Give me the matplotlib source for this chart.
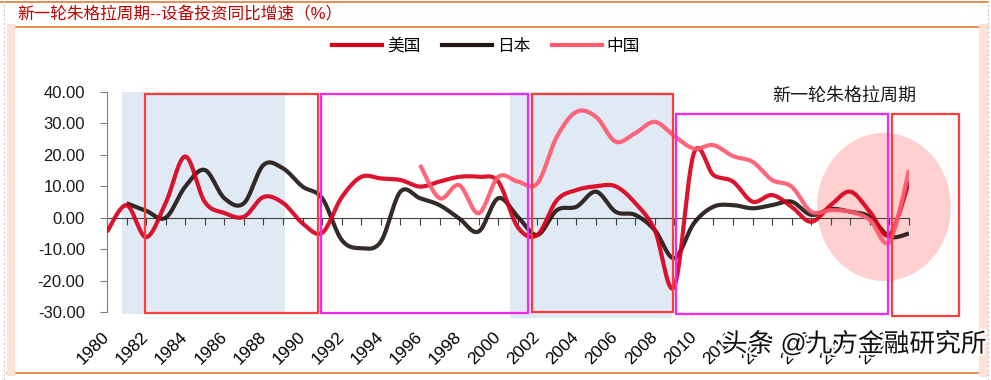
import matplotlib
matplotlib.use("Agg")
import matplotlib.pyplot as plt
import matplotlib.patheffects as pe
from matplotlib.patches import Rectangle, Ellipse
from matplotlib.lines import Line2D

plt.rcParams['font.family'] = ['Liberation Sans', 'Noto Sans CJK SC']

# data
years_us = list(range(1980, 2022))
us = [-4.5, 4.0, -6.2, 4.7, 19.5, 5.0, 1.5, 0.3, 6.6, 4.7, -1.8, -4.8,
      6.5, 13.0, 12.5, 12.0, 9.9, 11.5, 13.0, 13.0, 11.5, -3.0, -5.5,
      5.6, 8.8, 10.0, 10.0, 4.7, -3.9, -22.0, 20.5, 13.6, 11.5, 5.1, 7.2,
      3.5, -1.3, 4.0, 8.3, 1.9, -5.5, 11.5]

years_jp = list(range(1981, 2022))
jp = [4.6, 2.2, 0.0, 9.9, 15.2, 6.2, 4.6, 16.8, 15.7, 9.9, 6.2,
      -7.1, -9.7, -7.6, 8.3, 6.2, 4.0, -0.2, -4.4, 6.2, 0.3, -5.5,
      2.4, 3.5, 8.3, 1.9, 0.9, -3.9, -12.9, -1.8, 3.5, 4.0, 3.0, 4.0,
      5.1, 0.9, 2.8, 1.9, 0.3, -6.0, -5.0]

years_cn = list(range(1996, 2022))
cn = [16.8, 6.2, 10.4, 1.4, 13.0, 11.5, 10.9, 25.8, 33.7, 32.1, 24.2,
      26.9, 30.5, 26.0, 22.0, 23.1, 19.6, 17.8, 12.0, 9.9, 1.9, 2.4,
      1.9, -0.7, -7.6, 15.2]

label_years = list(range(1980, 2021, 2))
yticks = [-30, -20, -10, 0, 10, 20, 30, 40]

# shaded periods and marker boxes (year_from, year_to, low, high)
blue_spans = [(1980.77, 1989.1, -30.6, 40), (2000.6, 2008.9, -31.9, 40)]
red_boxes = [(1981.94, 1990.79, -30.3, 39.4), (2001.73, 2008.94, -30.0, 39.4),
             (2020.13, 2023.56, -31.3, 33.0)]
pink_boxes = [(1990.94, 2001.52, -30.3, 39.4), (2009.09, 2019.93, -30.6, 33.0)]


def smooth(x, y, n=12):
    # catmull-rom through every point, like Excel's smoothed line
    xs, ys = [], []
    for i in range(len(x) - 1):
        x0, y0 = (x[i - 1], y[i - 1]) if i > 0 else (x[i], y[i])
        x1, y1 = x[i], y[i]
        x2, y2 = x[i + 1], y[i + 1]
        x3, y3 = (x[i + 2], y[i + 2]) if i + 2 < len(x) else (x2, y2)
        for k in range(n):
            t = k / n
            t2, t3 = t * t, t * t * t
            xs.append(0.5 * (2 * x1 + (-x0 + x2) * t + (2 * x0 - 5 * x1 + 4 * x2 - x3) * t2 + (-x0 + 3 * x1 - 3 * x2 + x3) * t3))
            ys.append(0.5 * (2 * y1 + (-y0 + y2) * t + (2 * y0 - 5 * y1 + 4 * y2 - y3) * t2 + (-y0 + 3 * y1 - 3 * y2 + y3) * t3))
    xs.append(x[-1])
    ys.append(y[-1])
    return xs, ys


fig = plt.figure(figsize=(9.91, 3.8), dpi=100)
ax = fig.add_axes([107 / 991, 68 / 380, 802 / 991, 220 / 380])
ax.set_xlim(1980, 2021)
ax.set_ylim(-30, 40)

for x0, x1, lo, hi in blue_spans:
    ax.add_patch(Rectangle((x0, lo), x1 - x0, hi - lo, color='#dfeaf5', lw=0, zorder=0, clip_on=False))

ax.add_patch(Ellipse((2019.72, 3.4), 6.85, 47.1, color='#ffd0d0', lw=0, zorder=1, clip_on=False))

ax.plot(*smooth(years_us, us), color='#d9001b', lw=3, alpha=0.92, zorder=4, solid_capstyle='butt')
ax.plot(*smooth(years_jp, jp), color='#231815', lw=3, alpha=0.92, zorder=3, solid_capstyle='butt')
ax.plot(*smooth(years_cn, cn), color='#ff5a6e', lw=3, alpha=0.92, zorder=5, solid_capstyle='butt')

for x0, x1, lo, hi in red_boxes:
    ax.add_patch(Rectangle((x0, lo), x1 - x0, hi - lo, fill=False, ec='#ff3b3b', lw=1.6, zorder=6, clip_on=False))
for x0, x1, lo, hi in pink_boxes:
    ax.add_patch(Rectangle((x0, lo), x1 - x0, hi - lo, fill=False, ec='#f527f5', lw=1.6, zorder=6, clip_on=False))

# axes
for s in ['top', 'right']:
    ax.spines[s].set_visible(False)
ax.spines['left'].set_color('#808080')
ax.spines['bottom'].set_position(('data', 0))
ax.spines['bottom'].set_color('#404040')
ax.spines['bottom'].set_zorder(2)
ax.set_yticks(yticks)
ax.set_yticklabels([f'{v:.2f}' for v in yticks], fontsize=12, color='#1a1a1a')
ax.tick_params(axis='y', length=5, color='#808080', pad=11)
ax.set_xticks(years_us)
ax.set_xticklabels([])
ax.tick_params(axis='x', length=5, color='#404040', direction='out')

ax2 = ax.secondary_xaxis(0)
ax2.spines['bottom'].set_visible(False)
ax2.set_xticks(label_years)
ax2.set_xticklabels([str(y) for y in label_years], fontsize=12.5, rotation=45,
                    ha='right', va='center', rotation_mode='anchor')
ax2.tick_params(length=0, pad=16)

# legend
handles = [Line2D([], [], color='#d9001b', lw=3), Line2D([], [], color='#231815', lw=3),
           Line2D([], [], color='#ff5a6e', lw=3)]
fig.legend(handles, ['美国', '日本', '中国'], loc='center', bbox_to_anchor=(486 / 991, 1 - 46 / 380),
           ncol=3, frameon=False, fontsize=12, handlelength=3.0, handletextpad=0.3, columnspacing=1.3)

fig.text(772 / 991, 1 - 96 / 380, '新一轮朱格拉周期', fontsize=13, color='#1a1a1a', va='center', ha='left')
fig.text(17 / 991, 1 - 14 / 380, '新一轮朱格拉周期--设备投资同比增速（%）', fontsize=12,
         color='#c00000', va='center', ha='left')

# page frame
W, H = 991, 380
def fl(x0, y0, x1, y1, **kw):
    fig.add_artist(Line2D([x0 / W, x1 / W], [1 - y0 / H, 1 - y1 / H], **kw))

fl(0, 1.5, 988, 1.5, color='#e07a3c', lw=1.2)
fl(15, 27, 988, 27, color='#e07a3c', lw=1.2)
fl(7, 373, 978, 373, color='#e07a3c', lw=1.2)
fl(11, 28, 11, 372, color='#fce3d6', lw=6)
fl(982.5, 28, 982.5, 372, color='#fce3d6', lw=6.5)
fl(4, 0, 4, 380, color='#c8c8c8', lw=0.8, ls=(0, (2, 2)))
fl(988, 0, 988, 380, color='#c8c8c8', lw=0.8, ls=(0, (2, 2)))

fig.text(722 / W, 1 - 344 / H, '头条 @九方金融研究所', fontsize=18.5, color='#111111', va='center', ha='left',
         path_effects=[pe.withStroke(linewidth=3, foreground='white')], zorder=10)

fig.savefig('out.png', dpi=100)
